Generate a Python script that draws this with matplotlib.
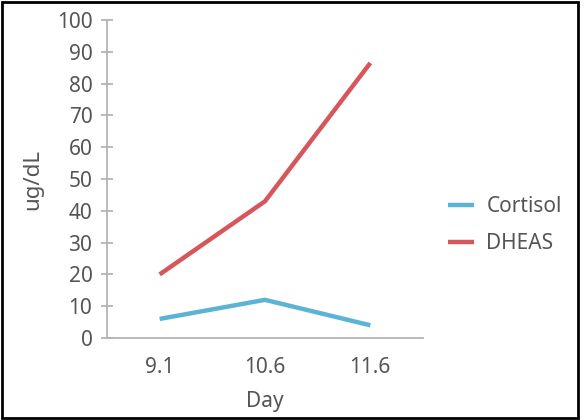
import matplotlib
matplotlib.use("Agg")
import matplotlib.pyplot as plt
from matplotlib.patches import Rectangle

days = ["9.1", "10.6", "11.6"]
cortisol = [6, 12, 4]
dheas = [20, 43, 86.5]
y_ticks = [0, 10, 20, 30, 40, 50, 60, 70, 80, 90, 100]

plt.rcParams['font.family'] = ['Noto Sans', 'DejaVu Sans']
text_color = '#555555'
axis_color = '#b4b4b4'
fs = 15

fig = plt.figure(figsize=(5.87, 4.20), dpi=100)
W, H = 587, 420
ax = fig.add_axes([107 / W, 1 - 338 / H, (423 - 107) / W, (338 - 20) / H])

x = list(range(len(days)))
ax.plot(x, cortisol, color='#5bb3d6', lw=3.2, label='Cortisol', solid_capstyle='butt')
ax.plot(x, dheas, color='#d6575b', lw=3.2, label='DHEAS', solid_capstyle='butt')

ax.set_xlim(-0.5, 2.5)
ax.set_ylim(0, 100)
ax.set_xticks(x)
ax.set_xticklabels(days)
ax.set_yticks(y_ticks)

for s in ['top', 'right']:
    ax.spines[s].set_visible(False)
for s in ['left', 'bottom']:
    ax.spines[s].set_color(axis_color)
    ax.spines[s].set_linewidth(1.3)

ax.tick_params(axis='y', direction='inout', length=9, width=1.3, color=axis_color,
               labelsize=fs, labelcolor=text_color, pad=6)
ax.tick_params(axis='x', length=0, labelsize=fs, labelcolor=text_color, pad=14)

ax.set_xlabel('Day', fontsize=fs, color=text_color, labelpad=9)
ax.set_ylabel('ug/dL', fontsize=fs + 1, color=text_color, labelpad=10)

leg = fig.legend(loc='center left', bbox_to_anchor=(429 / W, 1 - 225 / H),
                 frameon=False, fontsize=fs, handlelength=1.25, handletextpad=0.6,
                 labelspacing=0.75)
for t in leg.get_texts():
    t.set_color(text_color)

fig.patches.append(Rectangle((2 / W, 2 / H), (578 - 2) / W, (418 - 2) / H,
                             transform=fig.transFigure, fill=False,
                             edgecolor='black', lw=2))

fig.savefig('out.png', dpi=100)
